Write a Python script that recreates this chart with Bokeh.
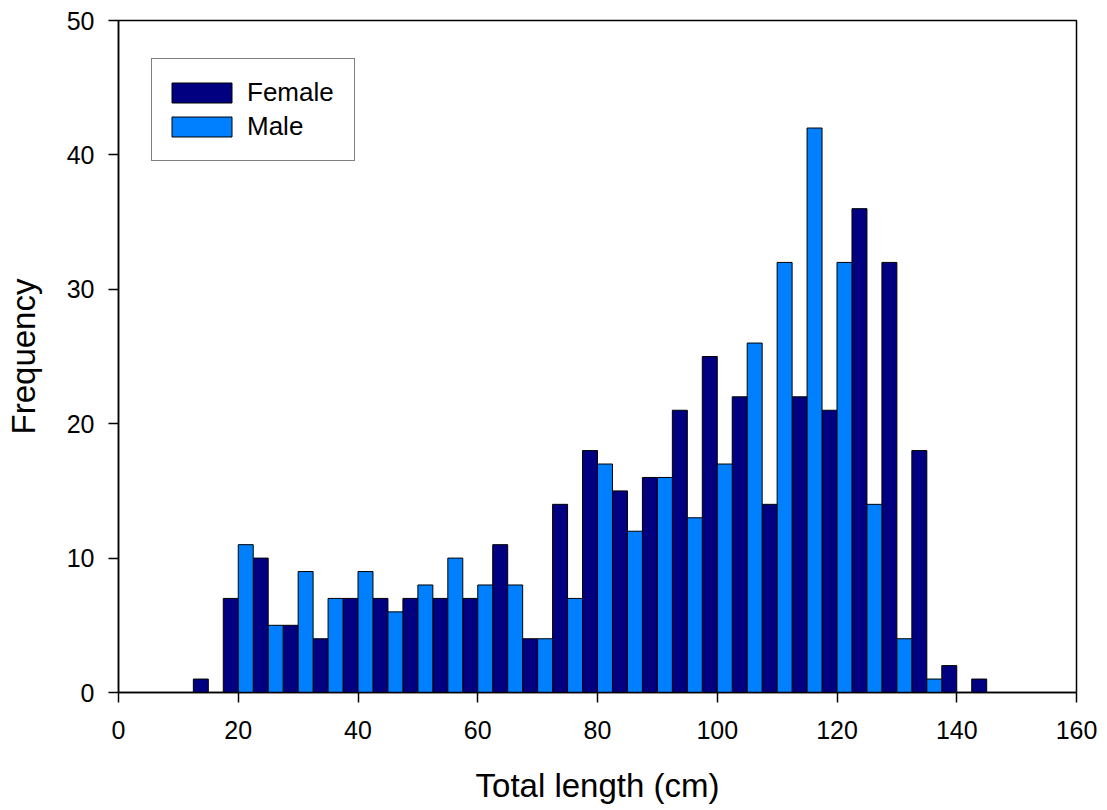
from bokeh.plotting import figure
from bokeh.models import FixedTicker, Legend, LegendItem
from bokeh.embed import file_html
from bokeh.resources import INLINE

# Bin centres (cm) and frequencies
bins = [15, 20, 25, 30, 35, 40, 45, 50, 55, 60, 65, 70, 75, 80, 85, 90, 95,
        100, 105, 110, 115, 120, 125, 130, 135, 140, 145]
female = [1, 7, 10, 5, 4, 7, 7, 7, 7, 7, 11, 4, 14, 18, 15, 16, 21,
          25, 22, 14, 22, 21, 36, 32, 18, 2, 1]
male = [0, 11, 5, 9, 7, 9, 6, 8, 10, 8, 8, 4, 7, 17, 12, 16, 13,
        17, 26, 32, 42, 32, 14, 4, 1, 0, 0]
x_ticks = [0, 20, 40, 60, 80, 100, 120, 140, 160]
y_ticks = [0, 10, 20, 30, 40, 50]

FONT = "Liberation Sans"
half = 2.5

p = figure(width=1107, height=810, x_range=(0, 160), y_range=(0, 50),
           output_backend="svg", toolbar_location=None,
           min_border_left=118, min_border_right=31,
           min_border_top=20, min_border_bottom=118)

f_x = [b - half / 2 for b in bins]
m_x = [b + half / 2 for b in bins]
rf = p.vbar(x=f_x, top=female, width=half, bottom=0,
            fill_color="#000080", line_color="black", line_width=1)
rm = p.vbar(x=m_x, top=male, width=half, bottom=0,
            fill_color="#0080FF", line_color="black", line_width=1)

p.xgrid.visible = False
p.ygrid.visible = False
p.outline_line_color = "black"
p.outline_line_width = 1.5
p.outline_line_alpha = 1
p.background_fill_color = "white"
p.border_fill_color = "white"

for ax, ticks in ((p.xaxis[0], x_ticks), (p.yaxis[0], y_ticks)):
    ax.ticker = FixedTicker(ticks=ticks, minor_ticks=[])
    ax.major_tick_out = 10
    ax.major_tick_in = 0
    ax.minor_tick_out = 0
    ax.minor_tick_in = 0
    ax.axis_line_color = "black"
    ax.axis_line_width = 1.5
    ax.major_tick_line_color = "black"
    ax.major_tick_line_width = 1.5
    ax.major_label_text_font = FONT
    ax.major_label_text_font_size = "25px"
    ax.major_label_text_color = "black"
    ax.axis_label_text_font = FONT
    ax.axis_label_text_font_size = "33px"
    ax.axis_label_text_font_style = "normal"
    ax.axis_label_text_color = "black"

p.xaxis.axis_label = "Total length (cm)"
p.yaxis.axis_label = "Frequency"
p.xaxis.major_label_standoff = 18
p.yaxis.major_label_standoff = 14
p.xaxis.axis_label_standoff = 25
p.yaxis.axis_label_standoff = 22

legend = Legend(items=[LegendItem(label="Female", renderers=[rf]),
                       LegendItem(label="Male", renderers=[rm])],
                location=(33, 531))
legend.border_line_color = "black"
legend.border_line_width = 1.5
legend.background_fill_color = "white"
legend.background_fill_alpha = 1
legend.padding = (12, 17)
legend.label_width = 95
legend.label_standoff = 8
legend.glyph_width = 75
legend.spacing = 1
legend.margin = 0
legend.glyph_height = 25
legend.label_height = 33
legend.label_text_font = FONT
legend.label_text_font_size = "26px"
legend.label_text_color = "black"
p.add_layout(legend)

open("out.html", "w").write(file_html(p, INLINE))
